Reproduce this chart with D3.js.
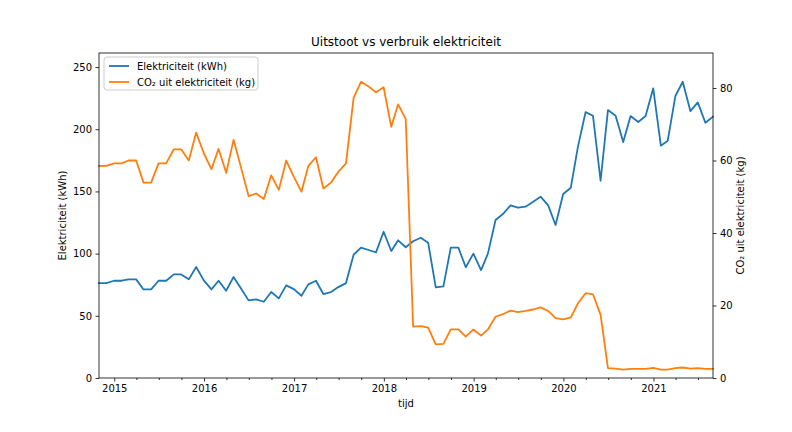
<!DOCTYPE html>
<html>
<head>
<meta charset="utf-8">
<script src="https://cdn.jsdelivr.net/npm/d3@7"></script>
<style>
  body { margin: 0; background: #fff; }
  svg { font-family: "DejaVu Sans", sans-serif; }
</style>
</head>
<body>
<div id="chart"></div>
<script>
// monthly values, first point end of Oct 2014
const startYear = 2014;
const startMonth = 10; // Oct (1-based)

const kwh = [
  76.3, 76.3, 78.2, 78.2, 79.3, 79.3, 71.2, 71.2, 78.2, 78.2, 83.3, 83.3, 79.3, 89.2,
  78.5, 71.2, 78.2, 70.2, 81.2, 71.8, 62.4, 63.2, 61.3, 69.1, 64.0, 74.5, 71.5, 66.1,
  75.3, 78.2, 67.5, 69.1, 73.1, 76.3,
  99.1, 104.8, 102.9, 101.0, 117.6, 102.1, 110.7, 105.1, 109.9, 112.8, 108.8, 72.9,
  73.7, 104.8, 104.8, 89.0, 100.0, 86.8, 100.0, 127.0, 131.8,
  138.8, 136.9, 137.7, 141.7, 145.8, 138.8, 123.0, 147.9, 153.0, 186.0, 213.8, 210.9,
  158.6, 215.4, 210.9, 189.7, 210.6, 205.8, 210.6, 232.9, 186.8, 190.8, 226.7, 238.2,
  214.6, 221.6, 205.2, 210.1
];

const co2 = [
  58.5, 58.5, 59.2, 59.2, 60.0, 60.0, 53.9, 53.9, 59.2, 59.2, 63.1, 63.1, 60.0, 67.7,
  62.0, 57.6, 63.2, 56.6, 65.7, 57.9, 50.2, 50.9, 49.4, 55.9, 51.9, 60.0, 55.5, 51.4,
  58.5, 60.9, 52.3, 53.9, 56.9, 59.2, 77.3, 81.7, 80.4, 78.8, 80.2, 69.3, 75.5, 71.4,
  14.2, 14.3, 13.9, 9.3, 9.4, 13.4, 13.4, 11.4, 13.4, 11.7, 13.4, 16.9, 17.6,
  18.6, 18.2, 18.5, 18.9, 19.5, 18.5, 16.5, 16.2, 16.7, 20.6, 23.4, 23.1, 17.4,
  2.7, 2.6, 2.3, 2.5, 2.5, 2.5, 2.8, 2.3, 2.3, 2.7, 2.9, 2.6, 2.7, 2.5, 2.5
];

const leftTicks = [0, 50, 100, 150, 200, 250];
const rightTicks = [0, 20, 40, 60, 80];
const yearTicks = [2015, 2016, 2017, 2018, 2019, 2020, 2021];

const title = 'Uitstoot vs verbruik elektriciteit';
const seriesNames = ['Elektriciteit (kWh)', 'CO\u2082 uit elektriciteit (kg)'];
const colors = ['#1f77b4', '#ff7f0e'];

// day 0 of next month = last day of this month
const dates = kwh.map((_, i) => new Date(startYear, startMonth + i, 0));

const width = 792, height = 432;
const margin = { left: 99, right: 79, top: 53, bottom: 54 };

const svg = d3.select('#chart').append('svg')
  .attr('width', width)
  .attr('height', height);

const x = d3.scaleTime()
  .domain(d3.extent(dates))
  .range([margin.left, width - margin.right]);

const yL = d3.scaleLinear()
  .domain([0, 261.3])
  .range([height - margin.bottom, margin.top]);

const yR = d3.scaleLinear()
  .domain([0, 89.66])
  .range([height - margin.bottom, margin.top]);

// Axes
const xAxis = d3.axisBottom(x)
  .tickValues(yearTicks.map(y => new Date(y, 0, 1)))
  .tickFormat(d3.timeFormat('%Y'))
  .tickSize(3.5).tickPadding(3.5);

const quarters = d3.timeMonth.every(3).range(x.domain()[0], x.domain()[1])
  .filter(d => d.getMonth() !== 0);

const xMinor = d3.axisBottom(x)
  .tickValues(quarters)
  .tickFormat('')
  .tickSize(2);

function styleAxis(g) {
  g.select('.domain').remove();
  g.selectAll('line').attr('stroke', '#000').attr('stroke-width', 0.8);
  g.selectAll('text').attr('font-size', 10).attr('fill', '#000')
    .attr('font-family', '"DejaVu Sans", sans-serif');
}

svg.append('g')
  .attr('transform', `translate(0,${height - margin.bottom})`)
  .call(xMinor).call(styleAxis);

svg.append('g')
  .attr('transform', `translate(0,${height - margin.bottom})`)
  .call(xAxis).call(styleAxis);

svg.append('g')
  .attr('transform', `translate(${margin.left},0)`)
  .call(d3.axisLeft(yL).tickValues(leftTicks).tickSize(3.5).tickPadding(3.5))
  .call(styleAxis);

svg.append('g')
  .attr('transform', `translate(${width - margin.right},0)`)
  .call(d3.axisRight(yR).tickValues(rightTicks).tickSize(3.5).tickPadding(3.5))
  .call(styleAxis);

// Lines
const lineL = d3.line().x((d, i) => x(dates[i])).y(d => yL(d));
const lineR = d3.line().x((d, i) => x(dates[i])).y(d => yR(d));

svg.append('path').datum(kwh)
  .attr('d', lineL)
  .attr('fill', 'none')
  .attr('stroke', colors[0])
  .attr('stroke-width', 1.8)
  .attr('stroke-linejoin', 'round')
  .attr('stroke-linecap', 'square');

svg.append('path').datum(co2)
  .attr('d', lineR)
  .attr('fill', 'none')
  .attr('stroke', colors[1])
  .attr('stroke-width', 1.8)
  .attr('stroke-linejoin', 'round')
  .attr('stroke-linecap', 'square');

// Frame
svg.append('rect')
  .attr('x', margin.left).attr('y', margin.top)
  .attr('width', width - margin.left - margin.right)
  .attr('height', height - margin.top - margin.bottom)
  .attr('fill', 'none')
  .attr('stroke', '#000')
  .attr('stroke-width', 0.8);

// Labels
svg.append('text')
  .attr('x', (margin.left + width - margin.right) / 2)
  .attr('y', 46)
  .attr('text-anchor', 'middle')
  .attr('font-size', 12)
  .text(title);

svg.append('text')
  .attr('x', (margin.left + width - margin.right) / 2)
  .attr('y', 407)
  .attr('text-anchor', 'middle')
  .attr('font-size', 10)
  .text('tijd');

svg.append('text')
  .attr('transform', `translate(66,${(margin.top + height - margin.bottom) / 2}) rotate(-90)`)
  .attr('text-anchor', 'middle')
  .attr('font-size', 10)
  .text(seriesNames[0]);

svg.append('text')
  .attr('transform', `translate(744,${(margin.top + height - margin.bottom) / 2}) rotate(-90)`)
  .attr('text-anchor', 'middle')
  .attr('font-size', 10)
  .text(seriesNames[1]);

// Legend
const legend = svg.append('g').attr('transform', `translate(${margin.left + 5},${margin.top + 4})`);

legend.append('rect')
  .attr('width', 154).attr('height', 33)
  .attr('rx', 3)
  .attr('fill', '#fff').attr('fill-opacity', 0.8)
  .attr('stroke', '#ccc');

seriesNames.forEach((name, i) => {
  const ly = 9 + i * 16;
  legend.append('line')
    .attr('x1', 5).attr('x2', 25)
    .attr('y1', ly).attr('y2', ly)
    .attr('stroke', colors[i])
    .attr('stroke-width', 1.8);
  legend.append('text')
    .attr('x', 33).attr('y', ly + 3.5)
    .attr('font-size', 10)
    .text(name);
});
</script>
</body>
</html>
